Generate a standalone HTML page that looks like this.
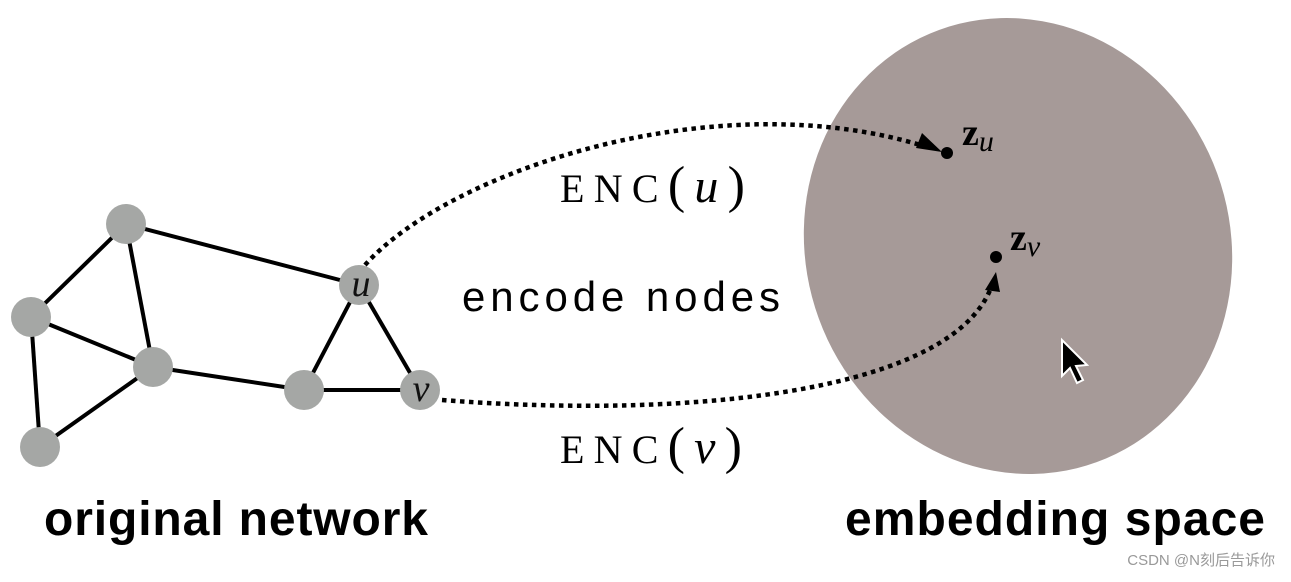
<!DOCTYPE html>
<html><head><style>body{margin:0;background:#fff;width:1291px;height:577px;overflow:hidden}</style></head>
<body>
<svg width="1291" height="577" xmlns="http://www.w3.org/2000/svg">
<ellipse cx="1018" cy="246" rx="212" ry="230" transform="rotate(-20 1018 246)" fill="#a69a98"/>
<g stroke="#000" stroke-width="4">
<line x1="126" y1="224" x2="31" y2="317"/><line x1="126" y1="224" x2="153" y2="367"/>
<line x1="126" y1="224" x2="359" y2="285"/><line x1="31" y1="317" x2="153" y2="367"/>
<line x1="31" y1="317" x2="40" y2="447"/><line x1="40" y1="447" x2="153" y2="367"/>
<line x1="153" y1="367" x2="304" y2="390"/><line x1="304" y1="390" x2="359" y2="285"/>
<line x1="359" y1="285" x2="420" y2="390"/><line x1="304" y1="390" x2="420" y2="390"/>
</g>
<g fill="#a5a7a5">
<circle cx="126" cy="224" r="20"/><circle cx="31" cy="317" r="20"/><circle cx="153" cy="367" r="20"/>
<circle cx="40" cy="447" r="20"/><circle cx="304" cy="390" r="20"/><circle cx="359" cy="285" r="20"/><circle cx="420" cy="390" r="20"/>
</g>
<g font-family="Liberation Serif, serif" font-style="italic" font-size="38" fill="#111" text-anchor="middle">
<text x="361" y="296">u</text><text x="421" y="401">v</text></g>
<g fill="none" stroke="#000" stroke-width="4.5" stroke-dasharray="4.5 4.5">
<path d="M365 265 C 450 170, 720 80, 930 148"/>
<path d="M442 400 C 700 420, 960 390, 993 282"/>
</g>
<polygon points="942,152 922,133 916,148" fill="#000"/>
<polygon points="996,272 985,290 1000,292" fill="#000"/>
<circle cx="947" cy="153" r="6" fill="#000"/><circle cx="996" cy="257" r="6" fill="#000"/>
<g font-family="Liberation Serif, serif" fill="#000">
<text x="962" y="145" font-weight="bold" font-size="38">z<tspan font-style="italic" font-weight="normal" font-size="30" dy="6">u</tspan></text>
<text x="1010" y="250" font-weight="bold" font-size="38">z<tspan font-style="italic" font-weight="normal" font-size="30" dy="6">v</tspan></text>
<text x="560" y="202" font-size="40" textLength="185">ENC<tspan font-size="52">(</tspan><tspan font-style="italic" font-size="48">u</tspan><tspan font-size="52">)</tspan></text>
<text x="560" y="463" font-size="40" textLength="182">ENC<tspan font-size="52">(</tspan><tspan font-style="italic" font-size="48">v</tspan><tspan font-size="52">)</tspan></text>
</g>
<text x="621" y="311" font-family="Liberation Sans, sans-serif" font-size="42" text-anchor="middle" fill="#000" textLength="318">encode nodes</text>
<g font-family="Liberation Sans, sans-serif" font-size="48" font-weight="bold" fill="#000">
<text x="44" y="535" textLength="384">original network</text><text x="845" y="535" textLength="420">embedding space</text></g>
<polygon points="1062,340 1062,376 1070,368 1077,383 1083,380 1076,366 1087,365" fill="#000" stroke="#fff" stroke-width="2"/>
<text x="1275" y="565" text-anchor="end" font-family="Liberation Sans, 'Noto Sans CJK SC', sans-serif" font-size="15" fill="#999">CSDN @N刻后告诉你</text>
</svg>
</body></html>
